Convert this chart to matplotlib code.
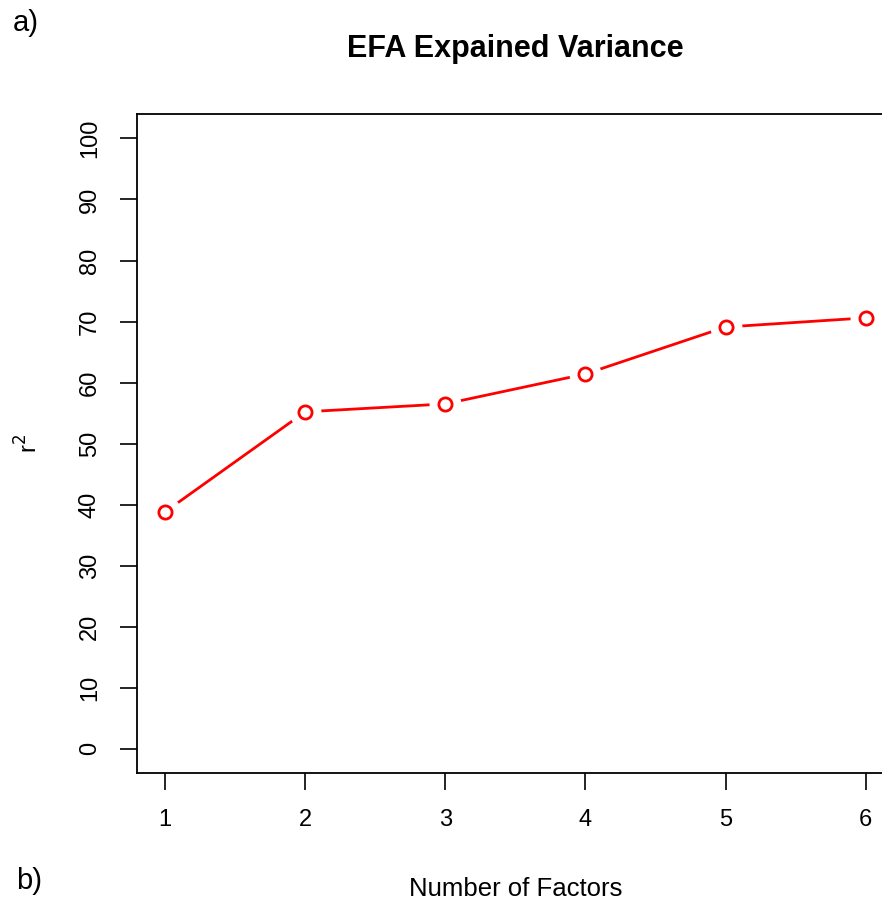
import matplotlib
matplotlib.use("Agg")
from matplotlib import pyplot as plt

factors = [1, 2, 3, 4, 5, 6]
r2 = [38.8, 55.2, 56.5, 61.4, 69.1, 70.6]
yticks = [0, 10, 20, 30, 40, 50, 60, 70, 80, 90, 100]

plt.rcParams['font.family'] = ['Liberation Sans', 'DejaVu Sans']

fig = plt.figure(figsize=(8.82, 9.01), dpi=100)
ax = fig.add_axes([0.1553, 0.142, 0.858, 0.7314])

# R type="b": line with gaps around points
ax.plot(factors, r2, color="red", lw=2.0, zorder=2)
ax.plot(factors, r2, "o", ms=23, mfc="white", mec="none", zorder=3)
ax.plot(factors, r2, "o", ms=9.5, mfc="none", mec="red", mew=2.0, zorder=4)

ax.set_xlim(0.8, 6.2)
ax.set_ylim(-4, 104)
ax.set_xticks(factors)
ax.set_yticks(yticks)
ax.tick_params(direction="out", length=12, width=1.2, labelsize=17, pad=14)
for lab in ax.get_yticklabels():
    lab.set_rotation(90)
    lab.set_va("center")
for s in ax.spines.values():
    s.set_linewidth(1.3)

ax.set_xlabel("Number of Factors", fontsize=18.5, labelpad=33)
ax.set_ylabel("r$^2$", fontsize=17, labelpad=26)

fig.text(0.584, 0.946, "EFA Expained Variance", ha="center", va="center",
         fontsize=22, fontweight="bold")
fig.text(0.015, 0.975, "a)", ha="left", va="center", fontsize=21)
fig.text(0.018, 0.022, "b)", ha="left", va="center", fontsize=21)

fig.savefig("out.png", dpi=100)
